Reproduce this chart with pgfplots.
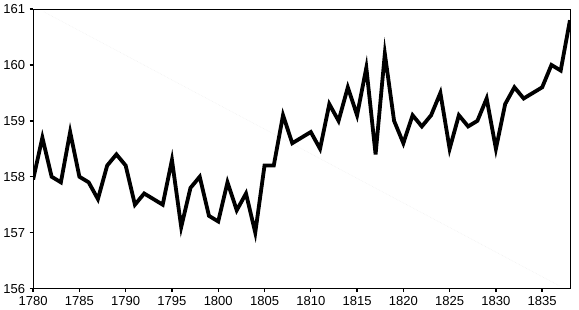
\documentclass[border=0pt]{standalone}
\usepackage{fontspec}
\setmainfont{Liberation Sans}
\usepackage{pgfplots}
\pgfplotsset{compat=1.18}
\begin{document}
\begin{tikzpicture}
\begin{axis}[
  scale only axis,
  width=534bp, height=278bp,
  xmin=1780, xmax=1838,
  ymin=156, ymax=161,
  xtick={1780,1785,...,1835},
  ytick={156,157,...,161},
  xtick pos=left, ytick pos=left,
  tick align=outside,
  major tick length=3.5bp,
  tick style={line width=1.4pt, black},
  axis line style={line width=0.7pt},
  /pgf/number format/1000 sep={},
  /pgf/number format/assume math mode=true,
  tick label style={font=\fontsize{13}{15}\selectfont},
  xticklabel style={yshift=-1pt},
  yticklabel style={xshift=-1pt},
  clip=true,
]
\draw[gray!12, line width=0.6pt, densely dotted] (rel axis cs:0.02,0.99) -- (rel axis cs:0.98,0.01);
\addplot[black, line width=3.8pt, line join=miter] coordinates {
(1780,157.95) (1781,158.7) (1782,158.0) (1783,157.9) (1784,158.8)
(1785,158.0) (1786,157.9) (1787,157.6) (1788,158.2) (1789,158.4)
(1790,158.2) (1791,157.5) (1792,157.7) (1793,157.6) (1794,157.5)
(1795,158.3) (1796,157.1) (1797,157.8) (1798,158.0) (1799,157.3)
(1800,157.2) (1801,157.9) (1802,157.4) (1803,157.7) (1804,157.0)
(1805,158.2) (1806,158.2) (1807,159.1) (1808,158.6) (1809,158.7)
(1810,158.8) (1811,158.5) (1812,159.3) (1813,159.0) (1814,159.6)
(1815,159.1) (1816,159.95) (1817,158.4) (1818,160.2) (1819,159.0)
(1820,158.6) (1821,159.1) (1822,158.9) (1823,159.1) (1824,159.5)
(1825,158.5) (1826,159.1) (1827,158.9) (1828,159.0) (1829,159.4)
(1830,158.5) (1831,159.3) (1832,159.6) (1833,159.4) (1834,159.5)
(1835,159.6) (1836,160.0) (1837,159.9) (1838,160.8)
};
\draw[black, line width=1.8pt] (rel axis cs:0,1) -- (rel axis cs:0,0) -- (rel axis cs:1,0);
\end{axis}
\path (current axis.south east) ++(9bp,0) (current axis.north east) ++(9bp,9bp);
\end{tikzpicture}
\end{document}
